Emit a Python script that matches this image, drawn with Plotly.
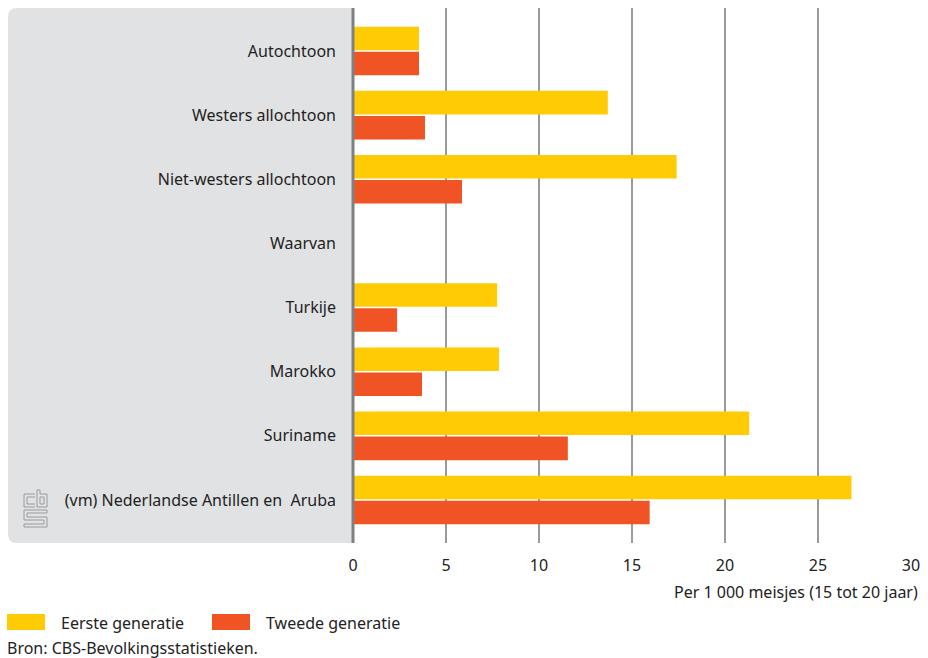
import plotly.graph_objects as go

categories = ["Autochtoon", "Westers allochtoon", "Niet-westers allochtoon", "Waarvan",
              "Turkije", "Marokko", "Suriname", "(vm) Nederlandse Antillen en  Aruba"]
eerste = [3.55, 13.7, 17.4, None, 7.75, 7.85, 21.3, 26.8]
tweede = [3.55, 3.87, 5.86, None, 2.37, 3.71, 11.55, 15.95]
series_names = ["Eerste generatie", "Tweede generatie"]
x_ticks = [0, 5, 10, 15, 20, 25, 30]

YELLOW = "#FFCB05"
RED = "#F05425"
PANEL = "#E1E2E4"
FONT = "Noto Sans"
FS = 16

W, H = 928, 658
ML, MR, MT, MB = 353, 17, 8, 115
PW, PH = W - ML - MR, H - MT - MB

fig = go.Figure()
fig.add_trace(go.Bar(y=categories, x=eerste, orientation="h", name=series_names[0],
                     marker=dict(color=YELLOW, line=dict(width=0)), showlegend=False))
fig.add_trace(go.Bar(y=categories, x=tweede, orientation="h", name=series_names[1],
                     marker=dict(color=RED, line=dict(width=0)), showlegend=False))

def px_x(p):
    return (p - ML) / PW

def px_y(p):
    return 1 - (p - MT) / PH

# grey panel behind labels, rounded left corners
x0, x1 = px_x(8), px_x(353)
y0, y1 = px_y(543), px_y(8)
rx, ry = 9 / PW, 9 / PH
path = (f"M {x1},{y1} L {x0+rx},{y1} Q {x0},{y1} {x0},{y1-ry} "
        f"L {x0},{y0+ry} Q {x0},{y0} {x0+rx},{y0} L {x1},{y0} Z")
shapes = [dict(type="path", path=path, xref="paper", yref="paper",
               fillcolor=PANEL, line=dict(width=0), layer="below")]

# axis line at zero
shapes.append(dict(type="line", xref="paper", yref="paper", x0=px_x(353), x1=px_x(353),
                   y0=px_y(543), y1=px_y(8), line=dict(color="#808080", width=3), layer="above"))

# CBS logo (approximate)
lg = "#9A9A9A"
def seg(xa, ya, xb, yb):
    shapes.append(dict(type="line", xref="paper", yref="paper",
                       x0=px_x(xa), y0=px_y(ya), x1=px_x(xb), y1=px_y(yb),
                       line=dict(color=lg, width=1)))
# c
seg(24, 494, 35, 494); seg(24, 494, 24, 507); seg(24, 507, 35, 507)
seg(27, 497, 35, 497); seg(27, 497, 27, 504); seg(27, 504, 35, 504)
# b
seg(37, 490, 37, 507); seg(37, 507, 47, 507); seg(47, 507, 47, 494); seg(47, 494, 40, 494)
seg(40, 490, 40, 494); seg(37, 490, 40, 490)
seg(40, 497, 44, 497); seg(44, 497, 44, 504); seg(44, 504, 40, 504); seg(40, 504, 40, 497)
# S
seg(24, 510, 47, 510); seg(24, 510, 24, 520); seg(24, 520, 44, 520); seg(44, 520, 44, 524)
seg(44, 524, 24, 524); seg(24, 524, 24, 527); seg(24, 527, 47, 527); seg(47, 527, 47, 517)
seg(47, 517, 27, 517); seg(27, 517, 27, 513); seg(27, 513, 47, 513); seg(47, 513, 47, 510)

# legend swatches
shapes.append(dict(type="rect", xref="paper", yref="paper", x0=px_x(7), x1=px_x(45),
                   y0=px_y(630), y1=px_y(614), fillcolor=YELLOW, line=dict(width=0)))
shapes.append(dict(type="rect", xref="paper", yref="paper", x0=px_x(212), x1=px_x(250),
                   y0=px_y(630), y1=px_y(614), fillcolor=RED, line=dict(width=0)))

annotations = [
    dict(text="Per 1 000 meisjes (15 tot 20 jaar)", xref="paper", yref="paper",
         x=px_x(920), y=px_y(592), xanchor="right", yanchor="middle", showarrow=False,
         font=dict(size=FS, color="#222")),
    dict(text=series_names[0], xref="paper", yref="paper", x=px_x(59), y=px_y(623),
         xanchor="left", yanchor="middle", showarrow=False, font=dict(size=FS, color="#222")),
    dict(text=series_names[1], xref="paper", yref="paper", x=px_x(264), y=px_y(623),
         xanchor="left", yanchor="middle", showarrow=False, font=dict(size=FS, color="#222")),
    dict(text="Bron: CBS-Bevolkingsstatistieken.", xref="paper", yref="paper", x=px_x(5),
         y=px_y(648), xanchor="left", yanchor="middle", showarrow=False,
         font=dict(size=FS, color="#222")),
]

fig.update_layout(
    width=W, height=H,
    margin=dict(l=ML, r=MR, t=MT, b=MB, autoexpand=False),
    paper_bgcolor="white", plot_bgcolor="rgba(0,0,0,0)",
    barmode="group", bargap=0.22, bargroupgap=0.06,
    font=dict(family=FONT, size=FS, color="#222"),
    shapes=shapes, annotations=annotations,
    xaxis=dict(range=[0, 30], tickvals=x_ticks, ticktext=[str(v) for v in x_ticks],
               showgrid=True, gridcolor="#9A9A9A", gridwidth=1.5, zeroline=False,
               showline=False, ticks="", ticklabelstandoff=11,
               tickfont=dict(size=FS, color="#222")),
    yaxis=dict(categoryorder="array", categoryarray=categories,
               range=[7.67, -0.67], showgrid=False, zeroline=False, showline=False,
               ticks="", ticklabelstandoff=16, tickfont=dict(size=FS, color="#222")),
)

fig.write_html("out.html", config={"displayModeBar": False},
               post_script="document.body.style.margin='0';document.body.style.overflow='hidden';")
